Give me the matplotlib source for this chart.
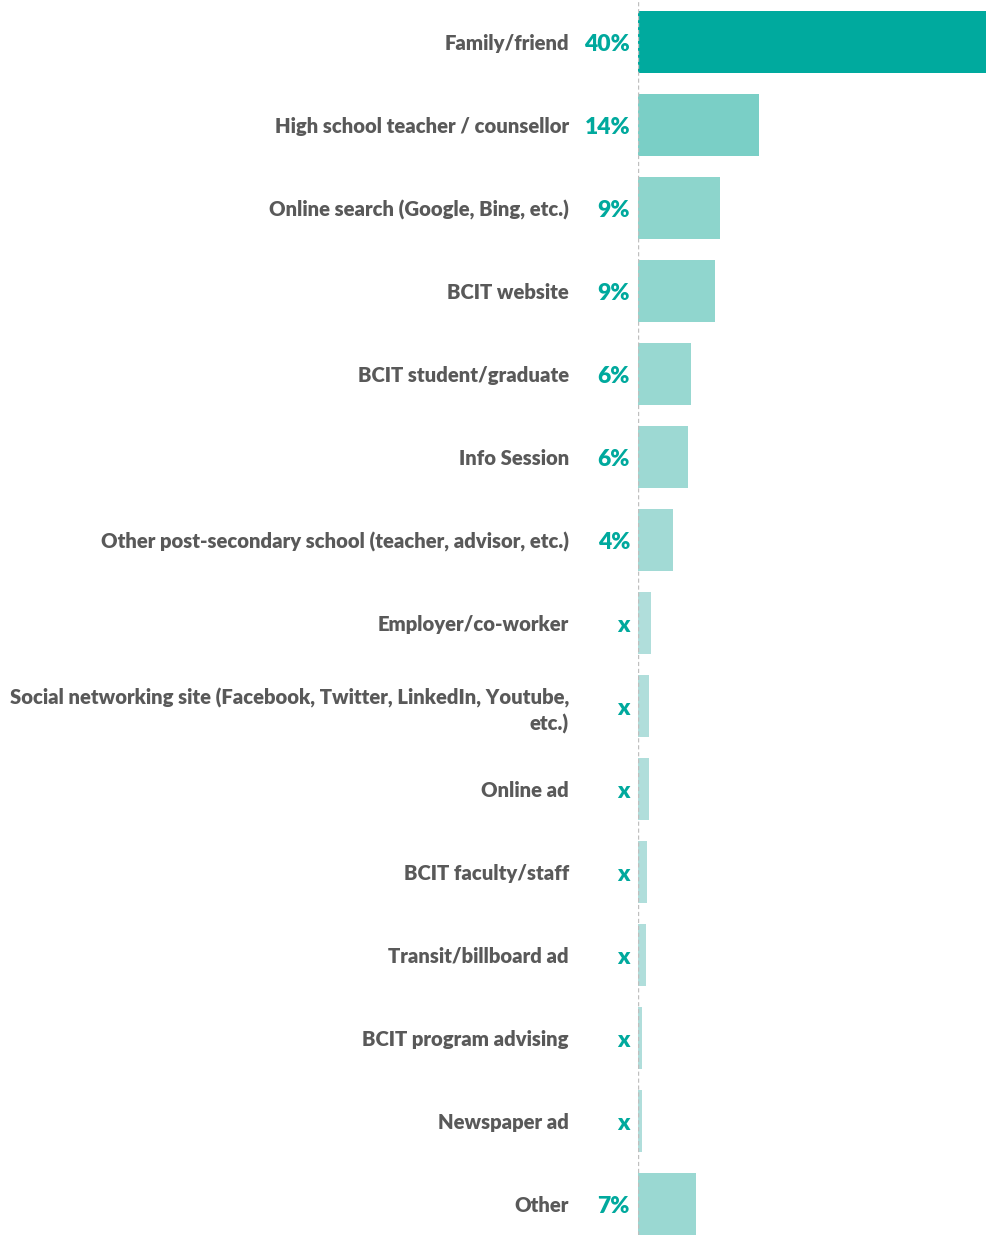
import matplotlib.pyplot as plt

categories = ['Family/friend', 'High school teacher / counsellor',
              'Online search (Google, Bing, etc.)', 'BCIT website',
              'BCIT student/graduate', 'Info Session',
              'Other post-secondary school (teacher, advisor, etc.)',
              'Employer/co-worker',
              'Social networking site (Facebook, Twitter, LinkedIn, Youtube,\netc.)',
              'Online ad', 'BCIT faculty/staff', 'Transit/billboard ad',
              'BCIT program advising', 'Newspaper ad', 'Other']
values = [40, 13.9, 9.4, 8.85, 6.1, 5.75, 4.0, 1.5, 1.3, 1.3, 1.0, 0.9, 0.5, 0.5, 6.7]
value_labels = ['40%', '14%', '9%', '9%', '6%', '6%', '4%', 'x', 'x', 'x', 'x', 'x', 'x', 'x', '7%']

bar_colors = ['#00AA9E', '#7ACFC6', '#8DD5CC', '#90D6CE', '#98D8D1', '#9DD9D3',
              '#A2DAD5', '#B0DEDB', '#B0DEDB', '#B0DEDB', '#B0DEDB', '#B0DEDB',
              '#B0DEDB', '#B0DEDB', '#9AD8D2']
text_gray = '#595959'
teal = '#00A99D'

plt.rcParams['font.family'] = ['Lato', 'DejaVu Sans']

fig = plt.figure(figsize=(9.86, 12.35), dpi=100)
ax = fig.add_axes([638 / 986, 0, 348 / 986, 1])

y = list(range(len(categories)))
ax.barh(y, values, height=0.747, color=bar_colors)
ax.set_xlim(0, 40)
ax.set_ylim((1235 - 42) / 83, -42 / 83)

ax.set_yticks(y)
ax.set_yticklabels(categories, fontsize=14.6, fontweight='heavy', color=text_gray,
                   ha='right', multialignment='right', linespacing=1.4)
ax.tick_params(axis='y', length=0, pad=69 * 72 / 100)
ax.set_xticks([])

for s in ax.spines.values():
    s.set_visible(False)
ax.axvline(0, color='#BFBFBF', linestyle=(0, (3, 2)), linewidth=1)

for i, lab in enumerate(value_labels):
    ax.annotate(lab, xy=(0, i), xytext=(-8 * 72 / 100, -1.5), textcoords='offset points',
                ha='right', va='center', fontsize=16.5, fontweight='heavy', color=teal)

fig.savefig('out.png', dpi=100)
